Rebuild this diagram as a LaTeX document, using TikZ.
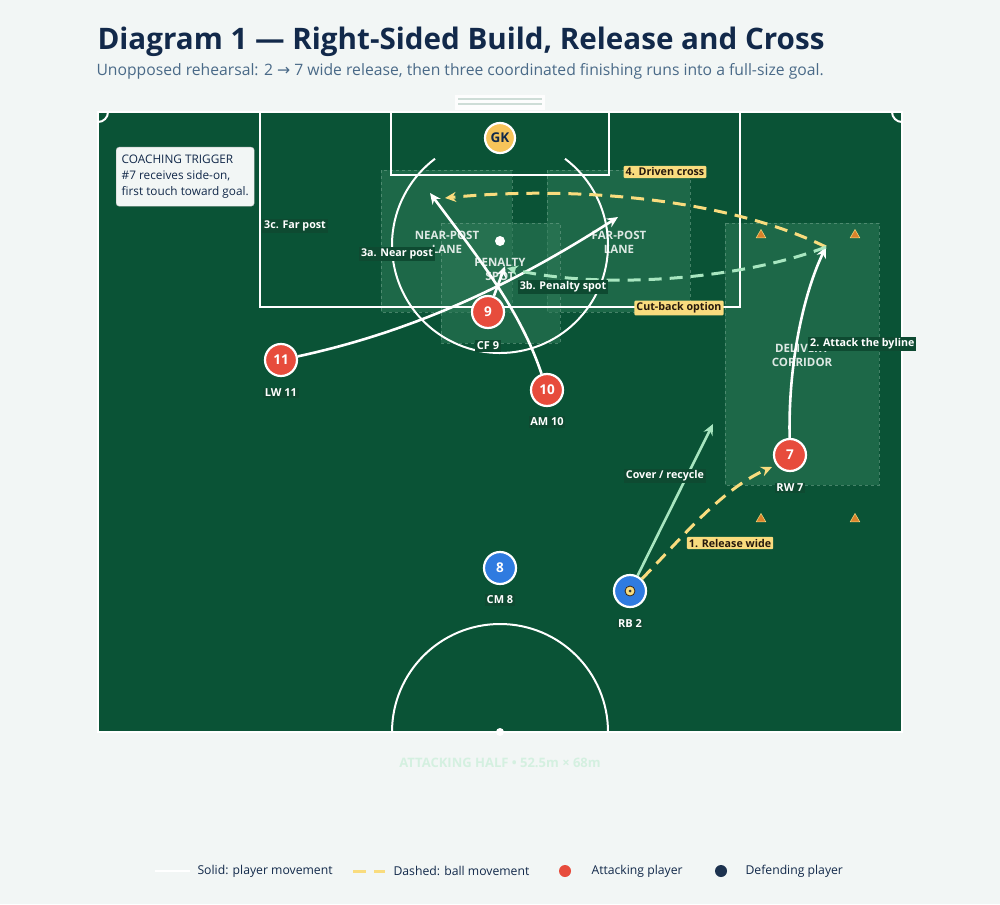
\documentclass[tikz,border=0pt]{standalone}
\usepackage{fontspec}
\setmainfont{Open Sans}
\newfontfamily\djv{DejaVu Sans}
\usetikzlibrary{arrows.meta,shapes.geometric}
\definecolor{bg}{HTML}{F2F6F5}
\definecolor{pitch}{HTML}{0A5336}
\definecolor{zone}{HTML}{2E7A58}
\definecolor{navy}{HTML}{12294A}
\definecolor{sub}{HTML}{4A6A88}
\definecolor{red}{HTML}{E74C3C}
\definecolor{blue}{HTML}{2F7BE0}
\definecolor{gk}{HTML}{F7C45A}
\definecolor{ylw}{HTML}{F9DC7E}
\definecolor{lgreen}{HTML}{A8E6C0}
\definecolor{cone}{HTML}{D9822B}
\definecolor{lblbg}{HTML}{0E4A31}
\begin{document}
\begin{tikzpicture}[x=1pt,y=-1pt,
 line/.style={white,line width=2pt},
 zonebox/.style={fill=zone,fill opacity=0.55,draw=zone!70!white,draw opacity=0.6,dashed,line width=0.8pt},
 zonelbl/.style={text=white,text opacity=0.85,font=\bfseries\fontsize{11.5}{14}\selectfont,align=center},
 player/.style={circle,draw=white,line width=2.2pt,minimum size=32pt,inner sep=0pt,text=white,font=\bfseries\fontsize{13.5}{13.5}\selectfont},
 pname/.style={text=white,font=\bfseries\fontsize{11}{12}\selectfont,fill=lblbg,inner sep=1.5pt},
 run/.style={white,line width=2.6pt,-{Stealth[length=11pt,width=10pt]}},
 ball/.style={ylw,line width=3pt,dash pattern=on 13pt off 8pt,-{Stealth[length=11pt,width=10pt]}},
 ylbl/.style={fill=ylw,text=black!80!brown,font=\bfseries\fontsize{10.7}{12}\selectfont,inner sep=2pt,rounded corners=1pt},
 dlbl/.style={fill=lblbg,text=white,font=\bfseries\fontsize{10.7}{12}\selectfont,inner sep=2pt},
 conem/.style={regular polygon,regular polygon sides=3,fill=cone,draw=ylw,line width=0.5pt,minimum size=11pt,inner sep=0pt}]
\fill[bg] (0,0) rectangle (1000,904);
\useasboundingbox (0,0) rectangle (1000,904);
% title
\node[anchor=west,text=navy,font=\bfseries\fontsize{29.6}{34}\selectfont] (title) at (94,42) {Diagram 1 — Right-Sided Build, Release and Cross};
\node[anchor=west,text=sub,font=\fontsize{15.7}{18}\selectfont] (subtitle) at (93,71) {Unopposed rehearsal: 2 {\djv→} 7 wide release, then three coordinated finishing runs into a full-size goal.};
% pitch
\fill[pitch] (98,112) rectangle (902,732);
\draw[line] (98,112) rectangle (902,732);
\fill[white,opacity=0.85] (455,95) rectangle (545,110);
\draw[pitch!20!white,line width=1.5pt] (458,99) -- (542,99) (458,104) -- (542,104);
% zones
\draw[zonebox] (381,170) rectangle (512,312);
\draw[zonebox] (547,170) rectangle (690,312);
\draw[zonebox] (441,223) rectangle (560,343);
\draw[zonebox] (725,223) rectangle (879,485);
% markings
\draw[line] (260,112) -- (260,307) -- (740,307) -- (740,112);
\draw[line] (391,112) -- (391,175) -- (609,175) -- (609,112);
\draw[line] (500,245) ++(-53:108) arc[start angle=-53,end angle=233,radius=108];
\fill[white] (500,241) circle (5);
\draw[line] (392,732) arc[start angle=180,end angle=360,radius=108];
\fill[white] (500,732) circle (4);
\draw[line] (108,112) arc[start angle=0,end angle=90,radius=10];
\draw[line] (892,112) arc[start angle=180,end angle=90,radius=10];
% zone labels
\node[zonelbl] (znear) at (447,242) {NEAR-POST\\LANE};
\node[zonelbl] (zfar) at (619,242) {FAR-POST\\LANE};
\node[zonelbl] (zpen) at (500,269) {PENALTY\\SPOT};
\node[zonelbl] (zdel) at (802,355) {DELIVERY\\CORRIDOR};
% cones
\node[conem] (c1) at (761,235) {};
\node[conem] (c2) at (855,235) {};
\node[conem] (c3) at (761,519) {};
\node[conem] (c4) at (855,519) {};
% coaching box
\node[anchor=north west,fill=bg,draw=black!25,rounded corners=3pt,text=navy,align=left,font=\fontsize{11.8}{16}\selectfont,minimum width=138pt,minimum height=59pt,inner sep=3.5pt] (coach) at (116,147) {COACHING TRIGGER\\\#7 receives side-on,\\first touch toward goal.};
% targets
\coordinate (tnear) at (430,193);
\coordinate (tfar) at (618,217);
\coordinate (tpen) at (505,266);
\coordinate (tbyl) at (826,247);
\coordinate (tcov) at (713,424);
\coordinate (trel) at (772,467);
\coordinate (tcross) at (445,198);
\coordinate (tcut) at (507,268);
% players
\node[player,fill=gk,text=navy,minimum size=30pt] (gk) at (500,138) {GK};
\node[player,fill=red] (p9) at (488,312) {9};
\node[player,fill=red] (p11) at (281,360) {11};
\node[player,fill=red] (p10) at (547,390) {10};
\node[player,fill=red] (p7) at (790,455) {7};
\node[player,fill=blue] (p8) at (500,568) {8};
\node[player,fill=blue] (p2) at (630,591) {};
\fill[ylw,draw=black!70!brown,line width=0.8pt] (p2) circle (5);
\fill[black!80] (p2) circle (1.5);
% runs
\draw[run] (p11) .. controls (420,330) and (520,280) .. (tfar);
\draw[run] (p10) .. controls (520,310) and (480,260) .. (tnear);
\draw[run] (p9) -- (tpen);
\draw[run] (p7) .. controls (788,360) and (805,290) .. (tbyl);
\draw[lgreen,line width=2.6pt,-{Stealth[length=11pt,width=10pt]}] (p2) .. controls (665,520) and (690,470) .. (tcov);
% ball
\draw[ball] (p2) .. controls (680,540) and (720,490) .. (trel);
\draw[ball] (tbyl) .. controls (730,200) and (580,185) .. (tcross);
\draw[ball,lgreen] (tbyl) .. controls (740,280) and (600,290) .. (tcut);
% names
\node[pname] (n9) at (488,346) {CF 9};
\node[pname] (n11) at (281,393) {LW 11};
\node[pname] (n10) at (547,422) {AM 10};
\node[pname] (n7) at (790,488) {RW 7};
\node[pname] (n8) at (500,600) {CM 8};
\node[pname] (n2) at (630,624) {RB 2};
% labels
\node[ylbl] (l4) at (665,172) {4. Driven cross};
\node[ylbl] (lcut) at (679,308) {Cut-back option};
\node[ylbl] (l1) at (730,543) {1. Release wide};
\node[dlbl,anchor=west] (l2) at (808,344) {2. Attack the byline};
\node[dlbl] (l3a) at (397,254) {3a. Near post};
\node[dlbl] (l3b) at (563,287) {3b. Penalty spot};
\node[dlbl] (l3c) at (295,226) {3c. Far post};
\node[dlbl] (lcov) at (665,476) {Cover / recycle};
% footer
\node[text=lgreen!40!bg,font=\bfseries\fontsize{13}{14}\selectfont] (foot) at (500,763) {ATTACKING HALF • 52.5m × 68m};
% legend
\coordinate (la) at (155,871); \coordinate (lb) at (190,871);
\draw[white,line width=2.5pt] (la) -- (lb);
\node[anchor=west,text=navy,font=\fontsize{12.2}{13}\selectfont] (leg1) at (194,871) {Solid: player movement};
\coordinate (lc) at (353,871); \coordinate (ld) at (385,871);
\draw[ylw,line width=3pt,dash pattern=on 13pt off 8pt] (lc) -- (ld);
\node[anchor=west,text=navy,font=\fontsize{12.2}{13}\selectfont] (leg2) at (390,871) {Dashed: ball movement};
\fill[red] (565,871) circle (6);
\node[anchor=west,text=navy,font=\fontsize{12.2}{13}\selectfont] (leg3) at (588,871) {Attacking player};
\fill[navy!90!gray] (721,871) circle (6);
\node[anchor=west,text=navy,font=\fontsize{12.2}{13}\selectfont] (leg4) at (742,871) {Defending player};
\end{tikzpicture}
\end{document}
